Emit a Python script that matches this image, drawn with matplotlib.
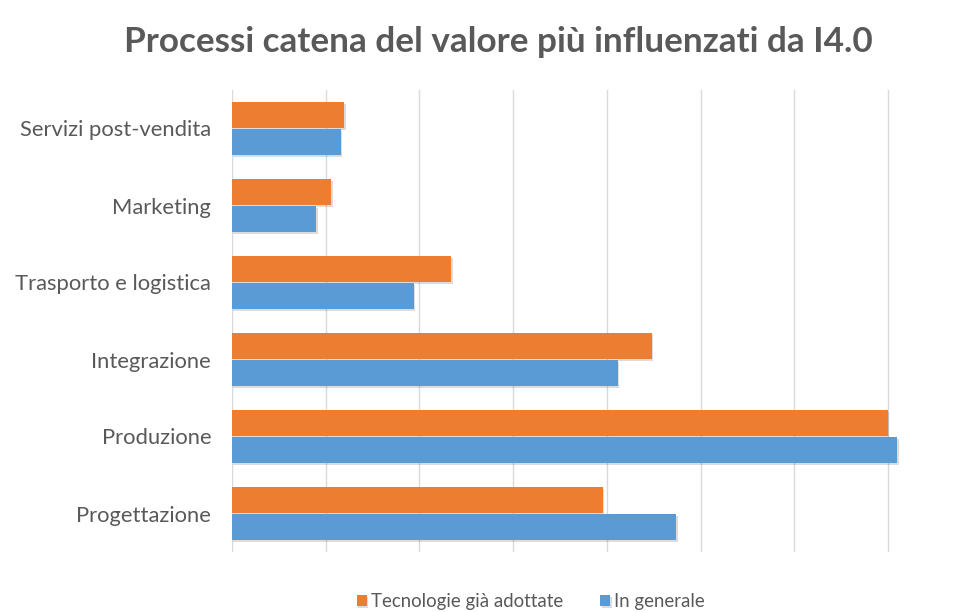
import matplotlib.pyplot as plt
import matplotlib.patheffects as pe
import numpy as np

plt.rcParams["font.family"] = ["Lato", "DejaVu Sans"]

categorie = [
    "Progettazione",
    "Produzione",
    "Integrazione",
    "Trasporto e logistica",
    "Marketing",
    "Servizi post-vendita",
]
tecnologie_adottate = [19.8, 35.0, 22.4, 11.7, 5.3, 6.0]
in_generale = [23.7, 35.5, 20.6, 9.7, 4.5, 5.8]

arancio = "#ED7D31"
blu = "#5B9BD5"
grigio = "#595959"

fig = plt.figure(figsize=(9.74, 6.12), dpi=100)
ax = fig.add_axes([232 / 974, 1 - 552 / 612, 1 - 232 / 974, 462 / 612])

y = np.arange(len(categorie))
h = 0.33
ombra = [pe.SimplePatchShadow(offset=(1, -1.5), alpha=0.18, shadow_rgbFace="#404040"), pe.Normal()]

b1 = ax.barh(y + h / 2 + 0.01, tecnologie_adottate, height=h, color=arancio,
             label="Tecnologie già adottate", zorder=3)
b2 = ax.barh(y - h / 2 - 0.01, in_generale, height=h, color=blu,
             label="In generale", zorder=3)
for barra in list(b1) + list(b2):
    barra.set_path_effects(ombra)

ax.set_xlim(0, (974 - 232) / 93.7 * 5)
ax.set_ylim(-0.5, len(categorie) - 0.5)
ax.set_xticks(np.arange(0, 40, 5))
ax.set_xticklabels([])
ax.set_yticks(y)
ax.set_yticklabels(categorie, fontsize=15.8, color=grigio)
ax.tick_params(length=0, pad=15)
ax.grid(axis="x", color="#d9d9d9", linewidth=1, zorder=0)
for s in ax.spines.values():
    s.set_visible(False)

fig.text(0.512, 0.932, "Processi catena del valore più influenzati da I4.0",
         ha="center", va="center", fontsize=25.3, fontweight="bold", color=grigio)

fig.legend(handles=[b1, b2], loc="center", bbox_to_anchor=(0.545, 0.017), ncol=2,
           frameon=False, fontsize=13.4, labelcolor=grigio, handlelength=0.55,
           handleheight=0.55, handletextpad=0.2, columnspacing=2.0)

fig.savefig("out.png", dpi=100, facecolor="white")
